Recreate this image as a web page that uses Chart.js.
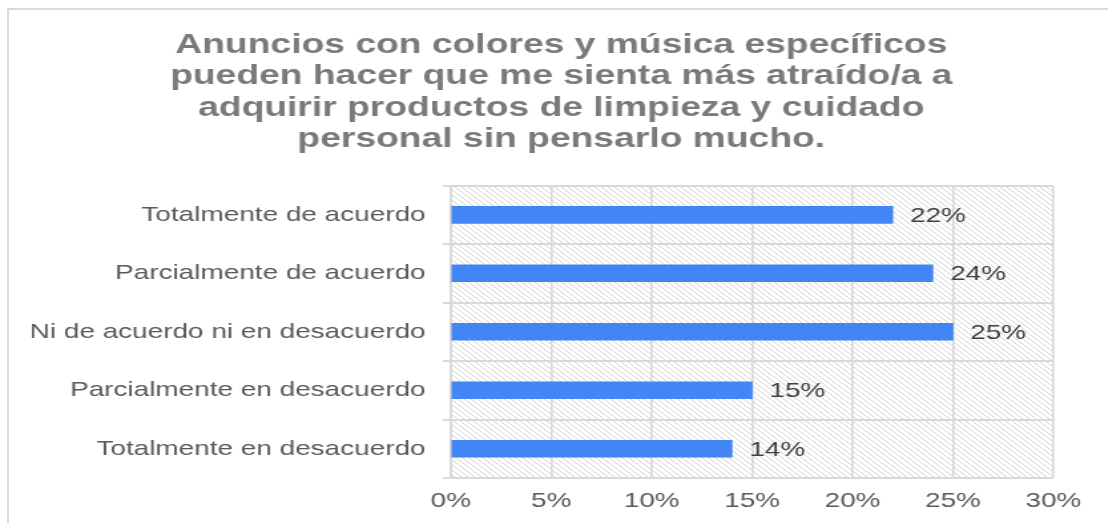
<!DOCTYPE html>
<html>
<head>
<meta charset="utf-8">
<script src="https://cdn.jsdelivr.net/npm/chart.js@4.4.0/dist/chart.umd.min.js"></script>
<style>
    body { margin: 0; background: #fff; overflow: hidden; }
    #frame {
        position: absolute; left: 7px; top: 8px; width: 1200px; height: 600px;
        border-left: 2px solid #d9d9d9; border-top: 2px solid #d9d9d9;
    }
    #wrap {
        position: absolute; left: 0; top: 0; width: 833px; height: 523px;
        transform: scaleX(1.33); transform-origin: 0 0;
    }
</style>
</head>
<body>
<div id="frame"></div>
<div id="wrap"><canvas id="respuestasChart" width="833" height="523"></canvas></div>
<script>
// datos
var categorias = [
    "Totalmente de acuerdo",
    "Parcialmente de acuerdo",
    "Ni de acuerdo ni en desacuerdo",
    "Parcialmente en desacuerdo",
    "Totalmente en desacuerdo"
];
var porcentajes = [22, 24, 25, 15, 14];
var tituloLineas = [
    "Anuncios con colores y música específicos",
    "pueden hacer que me sienta más atraído/a a",
    "adquirir productos de limpieza y cuidado",
    "personal sin pensarlo mucho."
];
var ejeMin = 0, ejeMax = 30, ejePaso = 5;

// patron rayado del fondo
function crearRayado() {
    var c = document.createElement("canvas");
    c.width = 5;
    c.height = 5;
    var g = c.getContext("2d");
    g.fillStyle = "#ffffff";
    g.fillRect(0, 0, 5, 5);
    g.strokeStyle = "#d4d4d4";
    g.lineWidth = 1;
    g.beginPath();
    g.moveTo(-1, -1); g.lineTo(6, 6);
    g.moveTo(-1, 4); g.lineTo(1, 6);
    g.moveTo(4, -1); g.lineTo(6, 1);
    g.stroke();
    return g.createPattern(c, "repeat");
}

var fondoRayado = {
    id: "fondoRayado",
    afterLayout: function(chart) {
        // el titulo va centrado un poco a la derecha
        if (chart.titleBlock) chart.titleBlock.left = 52;
    },
    beforeDraw: function(chart) {
        var a = chart.chartArea;
        var ctx = chart.ctx;
        ctx.save();
        ctx.fillStyle = crearRayado();
        ctx.fillRect(a.left, a.top, a.right - a.left, a.bottom - a.top);
        ctx.restore();
    }
};

var etiquetasValor = {
    id: "etiquetasValor",
    afterDatasetsDraw: function(chart) {
        var ctx = chart.ctx;
        var meta = chart.getDatasetMeta(0);
        ctx.save();
        ctx.font = "21px 'Liberation Sans', Arial, sans-serif";
        ctx.fillStyle = "#404040";
        ctx.textAlign = "left";
        ctx.textBaseline = "middle";
        meta.data.forEach(function(bar, i) {
            ctx.fillText(porcentajes[i] + "%", bar.x + 13, bar.y + 1);
        });
        ctx.restore();
    }
};

var ctxRespuestas = document.getElementById("respuestasChart");

new Chart(ctxRespuestas, {
    type: "bar",
    data: {
        labels: categorias,
        datasets: [
            {
                data: porcentajes,
                backgroundColor: "rgb(66, 133, 244)",
                barThickness: 17,
            },
        ],
    },
    plugins: [fondoRayado, etiquetasValor],
    options: {
        indexAxis: "y",
        responsive: false,
        animation: false,
        layout: {
            padding: { left: 0, right: 41, top: 0, bottom: 0 },
        },
        plugins: {
            legend: { display: false },
            tooltip: { enabled: false },
            title: {
                display: true,
                text: tituloLineas,
                color: "#7a7a7a",
                font: { family: "'Liberation Sans', Arial, sans-serif", size: 28, weight: "bold", lineHeight: 1.13 },
                padding: { top: 29, bottom: 30 },
            },
        },
        scales: {
            x: {
                min: ejeMin,
                max: ejeMax,
                ticks: {
                    stepSize: ejePaso,
                    padding: 11,
                    color: "#595959",
                    font: { family: "'Liberation Sans', Arial, sans-serif", size: 21 },
                    callback: function(v) { return v + "%"; },
                },
                grid: { color: "#d9d9d9", lineWidth: 1.6, drawTicks: false },
                border: { display: false },
                afterFit: function(scale) { scale.height = 45; },
            },
            y: {
                ticks: {
                    padding: 13,
                    color: "#595959",
                    font: { family: "'Liberation Sans', Arial, sans-serif", size: 21 },
                },
                grid: { color: "#d9d9d9", lineWidth: 2, tickLength: 6 },
                border: { color: "#d9d9d9", width: 2 },
                afterFit: function(scale) { scale.width = 339; },
            },
        },
    },
});
</script>
</body>
</html>
